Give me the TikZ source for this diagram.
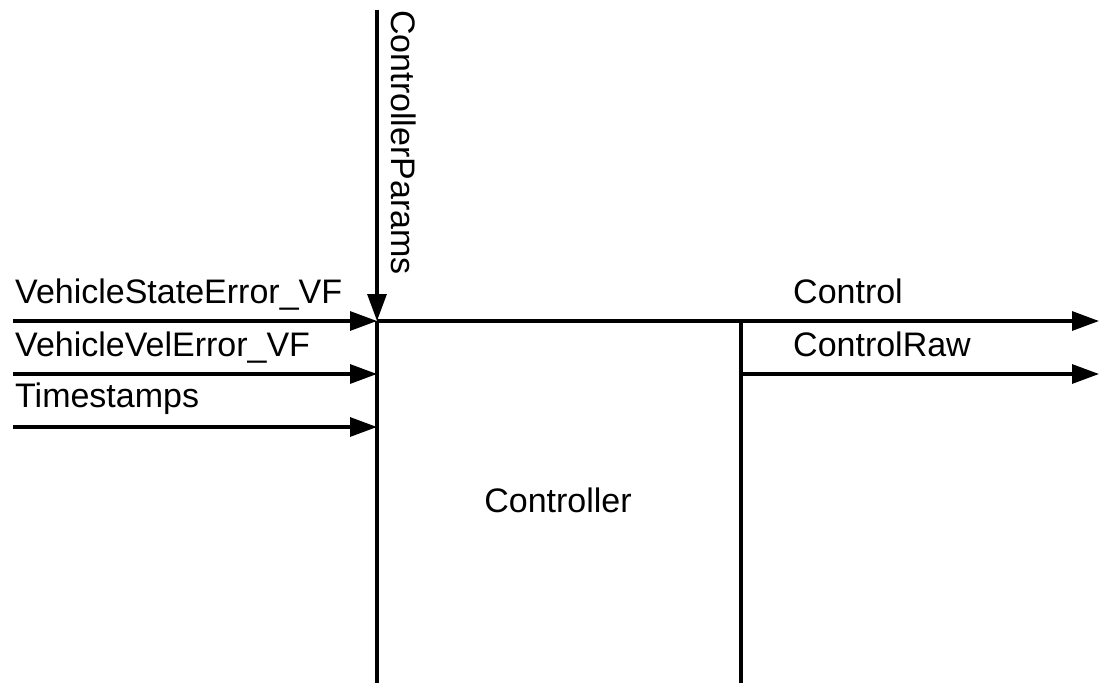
\documentclass[tikz,border=0pt]{standalone}
\usepackage{fontspec}
\setmainfont{Liberation Sans}
\usetikzlibrary{arrows.meta}
\tikzset{
  wire/.style={line width=3.2bp, black},
  flow/.style={wire, -{Triangle[length=27bp,width=19bp]}},
  lbl/.style={inner sep=0pt, font=\fontsize{34bp}{40bp}\selectfont},
}
\begin{document}
\begin{tikzpicture}[x=1bp,y=-1bp]
\useasboundingbox (0,0) rectangle (1100,683);

% block frame points
\coordinate (ptop) at (377,10);
\coordinate (pin)  at (377,321);
\coordinate (lbot) at (377,683);
\coordinate (rtop) at (741,321);
\coordinate (rmid) at (741,374);
\coordinate (rbot) at (741,683);

% input sources and their ends on the block edge
\coordinate (src1) at (13,321);
\coordinate (src2) at (13,374);
\coordinate (src3) at (13,427);
\coordinate (in2)  at (377,374);
\coordinate (in3)  at (377,427);

% output ends
\coordinate (out1) at (1099,321);
\coordinate (out2) at (1099,374);

% block edges
\draw[flow] (ptop) -- (pin);
\draw[wire] (pin) -- (lbot);
\draw[wire] (rtop) -- (rbot);

% inputs
\draw[flow] (src1) -- (pin);
\draw[flow] (src2) -- (in2);
\draw[flow] (src3) -- (in3);

% outputs
\draw[flow] (pin) -- (out1);
\draw[flow] (rmid) -- (out2);

% labels
\node[lbl, anchor=base west] (lstate) at (15,303) {VehicleStateError\_VF};
\node[lbl, anchor=base west] (lvel)   at (15,356) {VehicleVelError\_VF};
\node[lbl, anchor=base west] (lts)    at (15,407) {Timestamps};
\node[lbl, anchor=base west] (lctl)   at (793,303) {Control};
\node[lbl, anchor=base west] (lraw)   at (793,356) {ControlRaw};
\node[lbl, anchor=base]      (lblock) at (558,512) {Controller};
\node[lbl, anchor=base west, rotate=-90] (lparams) at (391,10) {ControllerParams};
\end{tikzpicture}
\end{document}
